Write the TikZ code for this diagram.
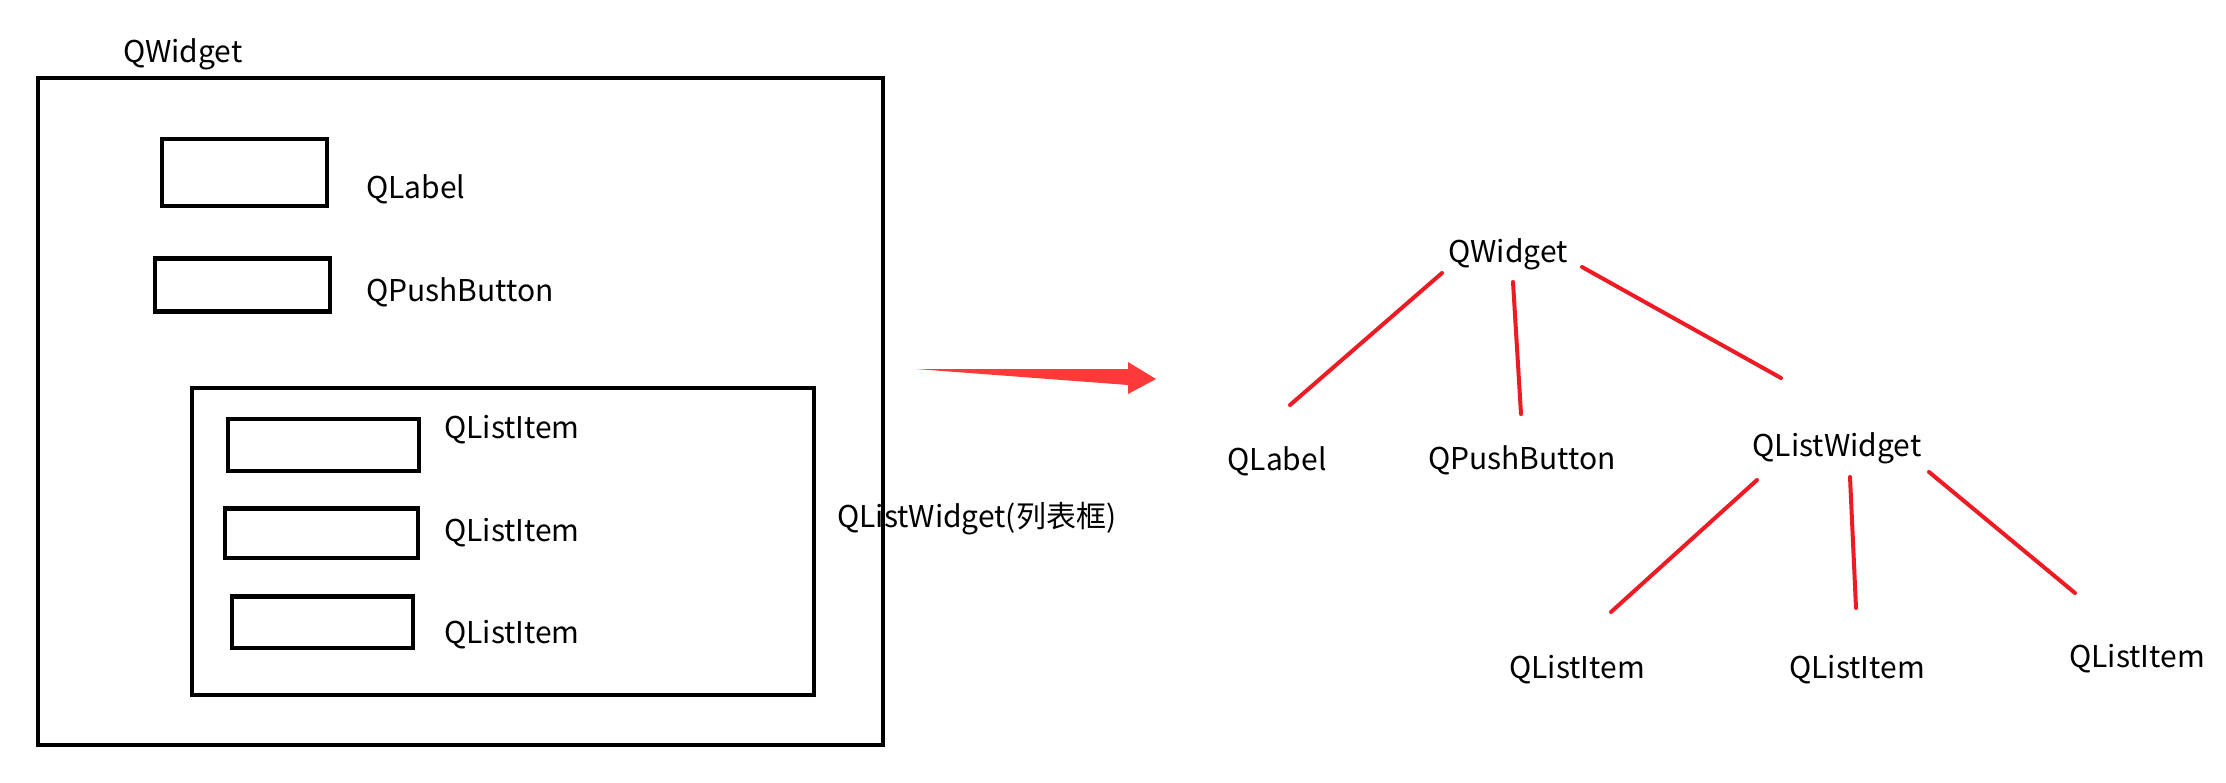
\documentclass[tikz,border=0pt]{standalone}
\usepackage{fontspec}
\setmainfont{Noto Sans CJK SC}
\definecolor{treered}{RGB}{237,28,36}
\definecolor{arrred}{RGB}{252,58,58}
\begin{document}
\begin{tikzpicture}[x=1pt,y=-1pt,
  lbl/.style={inner sep=0pt,font=\fontsize{30}{33}\selectfont},
  lleft/.style={lbl,anchor=base west},
  tlbl/.style={lbl,anchor=base},
  box/.style={draw=black,line width=4.6pt},
  edge/.style={draw=treered,line width=4pt,line cap=round}]
\useasboundingbox[fill=white] (0,0) rectangle (2226,783);
% left picture
\draw[box] (38,78) rectangle (883,745);
\draw[box] (162,139) rectangle (327,206);
\draw[box] (155,258.5) rectangle (330,311.5);
\draw[box] (192,388) rectangle (814,695);
\draw[box] (228,419) rectangle (419,471);
\draw[box] (225,508.5) rectangle (418,558);
\draw[box] (232,596.5) rectangle (413,648);
\node[lleft] (lw) at (123,62.5) {QWidget};
\node[lleft] (ll) at (366,199) {QLabel};
\node[lleft] (lp) at (366,302) {QPushButton};
\node[lleft] (li1) at (444,438) {QListItem};
\node[lleft] (li2) at (444,541) {QListItem};
\node[lleft] (li3) at (444,643) {QListItem};
\node[lleft] (llw) at (837,527) {QListWidget(列表框)};
% arrow
\fill[arrred] (916,369) -- (1128,369) -- (1128,362) -- (1156,379) -- (1128,394) -- (1128,385) -- cycle;
% tree
\node[tlbl] (tw) at (1508,263) {QWidget};
\node[tlbl] (tl) at (1277,470) {QLabel};
\node[tlbl] (tp) at (1522,469) {QPushButton};
\node[tlbl] (tlw) at (1837,456) {QListWidget};
\node[tlbl] (ti1) at (1577,678) {QListItem};
\node[tlbl] (ti2) at (1857,678) {QListItem};
\node[tlbl] (ti3) at (2137,667) {QListItem};
\coordinate (a1) at (1442,273); \coordinate (b1) at (1290,405);
\coordinate (a2) at (1513,282); \coordinate (b2) at (1521,414);
\coordinate (a3) at (1582,267); \coordinate (b3) at (1781,378);
\coordinate (a4) at (1757,480); \coordinate (b4) at (1611,612);
\coordinate (a5) at (1850,477); \coordinate (b5) at (1856,608);
\coordinate (a6) at (1929,472); \coordinate (b6) at (2075,593);
\draw[edge] (a1) -- (b1);
\draw[edge] (a2) -- (b2);
\draw[edge] (a3) -- (b3);
\draw[edge] (a4) -- (b4);
\draw[edge] (a5) -- (b5);
\draw[edge] (a6) -- (b6);
\end{tikzpicture}
\end{document}
